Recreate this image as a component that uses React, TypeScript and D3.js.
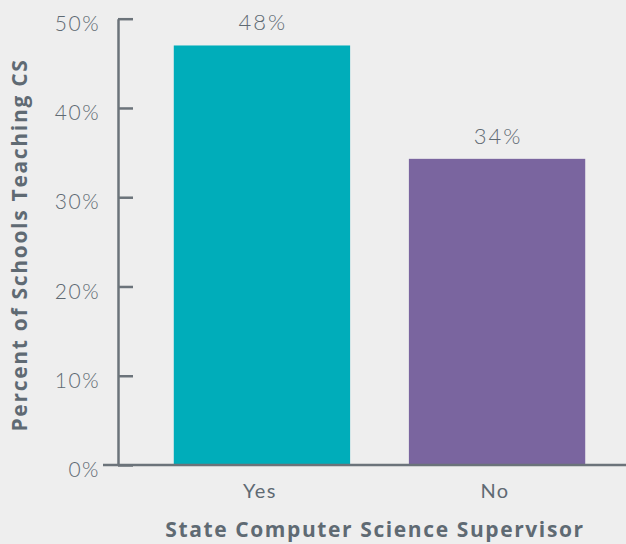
import React, { useEffect, useRef } from 'react';
import * as d3 from 'd3';

// Chart data
const categories = ['Yes', 'No'];
const values = [47, 34.3];
const valueLabels = ['48%', '34%'];
const barColors = ['#00adba', '#7a659f'];
const yTicks = [0, 10, 20, 30, 40, 50];

const xTitle = 'State Computer Science Supervisor';
const yTitle = 'Percent of Schools Teaching CS';

const width = 626;
const height = 544;
const textColor = '#5f6a73';
const axisColor = '#6b737a';

const App: React.FC = () => {
  const svgRef = useRef<SVGSVGElement>(null);

  useEffect(() => {
    if (!svgRef.current) return;
    const svg = d3.select(svgRef.current);
    svg.selectAll('*').remove();

    const y = d3.scaleLinear().domain([0, 50]).range([465, 18.7]);
    const x = d3.scaleBand<string>()
      .domain(categories)
      .range([115, 644])
      .paddingInner(0.25)
      .paddingOuter(0.25);

    svg.append('rect')
      .attr('width', width)
      .attr('height', height)
      .attr('fill', '#eeeeee');

    // Bars
    svg.append('g')
      .selectAll('rect')
      .data(categories)
      .join('rect')
      .attr('x', d => x(d)!)
      .attr('y', (d, i) => y(values[i]))
      .attr('width', x.bandwidth())
      .attr('height', (d, i) => y(0) - y(values[i]))
      .attr('fill', (d, i) => barColors[i]);

    // Value labels
    svg.append('g')
      .selectAll('text')
      .data(categories)
      .join('text')
      .attr('x', d => x(d)! + x.bandwidth() / 2 + 1)
      .attr('y', (d, i) => y(values[i]) - 15)
      .attr('text-anchor', 'middle')
      .attr('fill', textColor)
      .style('font-family', 'Lato, "Open Sans", sans-serif')
      .style('font-weight', '300')
      .style('font-size', '22px')
      .style('letter-spacing', '2px')
      .text((d, i) => valueLabels[i]);

    // Y axis
    const yAxis = d3.axisLeft(y)
      .tickValues(yTicks)
      .tickFormat(d => `${d}%`)
      .tickSize(-15)
      .tickSizeOuter(0)
      .tickPadding(18);

    const gy = svg.append('g')
      .attr('transform', 'translate(118,0)')
      .call(yAxis);
    gy.select('.domain').attr('stroke', axisColor).attr('stroke-width', 2.5);
    gy.selectAll('.tick line').attr('stroke', axisColor).attr('stroke-width', 2.5);
    gy.selectAll('.tick text')
      .attr('fill', textColor)
      .attr('dy', '0.55em')
      .style('font-family', 'Lato, "Open Sans", sans-serif')
      .style('font-weight', '300')
      .style('font-size', '21px')
      .style('letter-spacing', '1.5px');

    // X axis line
    svg.append('line')
      .attr('x1', 103)
      .attr('x2', width)
      .attr('y1', y(0))
      .attr('y2', y(0))
      .attr('stroke', axisColor)
      .attr('stroke-width', 2.5);

    // Category labels
    svg.append('g')
      .selectAll('text')
      .data(categories)
      .join('text')
      .attr('x', d => x(d)! + x.bandwidth() / 2 - 2)
      .attr('y', 498)
      .attr('text-anchor', 'middle')
      .attr('fill', textColor)
      .style('font-family', 'Lato, "Open Sans", sans-serif')
      .style('font-weight', '400')
      .style('font-size', '20px')
      .style('letter-spacing', '1.5px')
      .text(d => d);

    // Axis titles
    svg.append('text')
      .attr('x', 375)
      .attr('y', 537)
      .attr('text-anchor', 'middle')
      .attr('fill', textColor)
      .style('font-family', '"Open Sans", sans-serif')
      .style('font-weight', '700')
      .style('font-size', '21px')
      .style('letter-spacing', '1.6px')
      .text(xTitle);

    svg.append('text')
      .attr('transform', 'translate(27,245) rotate(-90)')
      .attr('text-anchor', 'middle')
      .attr('fill', textColor)
      .style('font-family', '"Open Sans", sans-serif')
      .style('font-weight', '700')
      .style('font-size', '21px')
      .style('letter-spacing', '1.7px')
      .text(yTitle);
  }, []);

  return (
    <div style={{ position: 'fixed', left: 0, top: 0 }}>
      <svg ref={svgRef} width={width} height={height} style={{ display: 'block' }} />
    </div>
  );
};

export default App;
